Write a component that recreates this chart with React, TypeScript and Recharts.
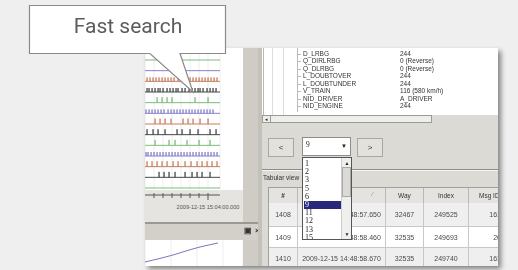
import React from 'react';
import {
  ComposedChart,
  Scatter,
  XAxis,
  YAxis,
  ReferenceLine,
  CartesianGrid,
  LineChart,
  Line,
} from 'recharts';

// signal rows, top to bottom; event times on a 0..75 scale
const rowColors = ['#7bbd7b', '#8680cc', '#c67d5c', '#474747'];
const row1Events: number[] = [];
const row2Events: number[] = [];
const row3Events = [2, 5, 8, 11, 14, 17, 20, 23, 26, 29, 33, 36, 39, 42, 45, 48, 51, 54, 57, 60, 63, 66, 69, 72];
const row4Events = [2, 4, 7, 10, 13, 15, 18, 22, 25, 28, 31, 33, 37, 40, 44, 47, 50, 53, 55, 58, 62, 65, 68, 71];
const row5Events = [12, 17, 22, 27, 50, 63];
const row6Events = [1, 4, 7, 10, 13, 16, 19, 23, 26, 29, 32, 35, 38, 41, 44, 47, 50, 53, 56, 59, 62, 65, 68];
const row7Events = [10, 15, 20, 26, 38, 43, 48, 55, 63];
const row8Events = [2, 8, 13, 20, 32, 37, 45, 53, 65, 71];
const row9Events = [10, 24, 30, 42, 54, 65];
const row10Events = [1, 3, 6, 9, 12, 15, 18, 21, 24, 27, 30, 33, 36, 39, 42, 45, 48, 51, 54, 57, 60, 63, 66, 69, 72];
const row11Events = [2, 7, 12, 17, 22, 28, 33, 40, 46, 52, 57, 62, 67, 72];
const row12Events = [14, 19, 24, 30, 40, 47, 52, 57, 65];
const row13Events: number[] = [];
const signalRows = [
  row1Events, row2Events, row3Events, row4Events, row5Events, row6Events, row7Events,
  row8Events, row9Events, row10Events, row11Events, row12Events, row13Events,
];
const timeTicks = [9, 18, 27, 36, 45, 54, 63];
const timeLabel = '2009-12-15 15:04:00.000';

// lower panel curve
const curveX = [0, 14, 28, 41, 55, 64, 73];
const curveY = [3.4, 6.2, 9.3, 12.7, 16.1, 17.8, 19.5];

// tree view
const treeNames = ['D_LRBG', 'Q_DIRLRBG', 'Q_DLRBG', 'L_DOUBTOVER', 'L_DOUBTUNDER', 'V_TRAIN', 'NID_DRIVER', 'NID_ENGINE'];
const treeValues = ['244', '0 (Reverse)', '0 (Reverse)', '244', '244', '116 (580 km/h)', 'A_DRIVER', '244'];

// combo list
const comboItems = ['1', '2', '3', '5', '6', '9', '11', '12', '13', '15'];
const comboSelected = '9';

// table
const tableHeaders = ['#', 'Time', 'Way', 'Index', 'Msg ID'];
const tableIds = ['1408', '1409', '1410'];
const tableTimes = ['2009-12-15 14:48:57.650', '2009-12-15 14:48:58.460', '2009-12-15 14:48:58.670'];
const tableWays = ['32467', '32535', '32535'];
const tableIndex = ['249525', '249693', '249740'];
const tableMsg = ['161', '20', '161'];

const tickShape = (color: string, h: number) => (props: any) => (
  <rect x={props.cx - 0.6} y={props.cy - h} width={1.3} height={h} fill={color} />
);

const TimeTick = (props: any) => {
  const { x, y, payload } = props;
  const major = payload.value === 63;
  return (
    <g>
      <line x1={x} x2={x} y1={y - 2} y2={y + (major ? 5 : 3)} stroke="#555" strokeWidth={1} />
      {major && (
        <text x={x} y={y + 14} textAnchor="middle" fontSize={5.6} fill="#555" fontFamily="Liberation Sans">
          {timeLabel}
        </text>
      )}
    </g>
  );
};

const SignalChart = () => {
  const series = signalRows.map((events, i) => events.map((t) => ({ t, row: i })));
  return (
    <ComposedChart width={100} height={175} margin={{ top: 0, right: 25, bottom: 0, left: 0 }}>
      <CartesianGrid horizontal={false} stroke="#eeeeee" />
      <XAxis
        dataKey="t"
        type="number"
        domain={[0, 75]}
        ticks={timeTicks}
        height={28}
        tickSize={0}
        tickMargin={0}
        tickLine={false}
        axisLine={{ stroke: '#555' }}
        tick={<TimeTick />}
        interval={0}
      />
      <YAxis dataKey="row" type="number" domain={[-1.125, 12.656]} reversed hide />
      {signalRows.map((_, i) => (
        <ReferenceLine key={'l' + i} y={i} stroke={rowColors[i % 4]} strokeWidth={1} />
      ))}
      {series.map((data, i) => (
        <Scatter
          key={'s' + i}
          data={data}
          isAnimationActive={false}
          shape={tickShape(rowColors[i % 4], data.length > 15 ? 4 : 5.5)}
        />
      ))}
    </ComposedChart>
  );
};

const CurveChart = () => {
  const data = curveX.map((x, i) => ({ x, y: curveY[i] }));
  return (
    <LineChart width={98} height={26} data={data} margin={{ top: 0, right: 0, bottom: 0, left: 0 }}>
      <CartesianGrid horizontal={false} stroke="#eeeeee" />
      <XAxis dataKey="x" type="number" domain={[0, 98]} ticks={[13, 26, 39, 52, 65, 78]} hide />
      <YAxis type="number" domain={[0, 22]} hide />
      <Line dataKey="y" stroke="#7a76c6" strokeWidth={1} dot={false} isAnimationActive={false} type="monotone" />
    </LineChart>
  );
};

const abs = (l: number, t: number, w: number, h: number, extra: React.CSSProperties = {}): React.CSSProperties => ({
  position: 'absolute',
  left: l,
  top: t,
  width: w,
  height: h,
  ...extra,
});

const btn = (l: number, label: string) => (
  <div
    style={abs(l, 90, 26, 19, {
      background: '#e3e1dc',
      border: '1px solid #a9a7a2',
      boxSizing: 'border-box',
      fontSize: 8,
      color: '#333',
      textAlign: 'center',
      lineHeight: '17px',
    })}
  >
    {label}
  </div>
);

const colEdges = [268, 297, 385, 423, 468, 530];
const rowTops = [202, 226, 247];
const rowHeights = [24, 21, 21];
const rowBg = ['#efefef', '#ffffff', '#efefef'];

export default function App() {
  return (
    <div
      style={abs(0, 0, 518, 270, {
        background: '#efefef',
        fontFamily: '"Liberation Sans", Arial, sans-serif',
        overflow: 'hidden',
      })}
    >
      {/* screenshot frame */}
      <div
        style={abs(145, 48, 353, 218, {
          background: '#dcdad5',
          boxShadow: '3px 3px 5px rgba(0,0,0,0.45)',
          overflow: 'hidden',
          filter: 'blur(0.35px)',
        })}
      >
        {/* left signal panel */}
        <div style={abs(0, 0, 98, 142, { background: '#ffffff' })} />
        <div style={abs(0, 142, 98, 32, { background: '#e6e4e0' })} />
        <div style={abs(98, 0, 15, 218, { background: '#cfccc6' })} />
        <div style={abs(0, 0, 100, 175)}>
          <SignalChart />
        </div>
        {/* lower panel */}
        <div style={abs(0, 174, 113, 2, { background: '#9a9893' })} />
        <div style={abs(0, 176, 113, 16, { background: '#d3d0ca' })} />
        <div style={abs(99, 178, 12, 12, { fontSize: 8, color: '#333', fontWeight: 700 })}>
          <span style={{ marginRight: 3 }}>▣</span>×
        </div>
        <div style={abs(0, 192, 98, 26, { background: '#ffffff' })}>
          <CurveChart />
        </div>

        {/* right side: tree view */}
        <div style={abs(113, 0, 4, 218, { background: '#c4c1bb' })} />
        <div style={abs(117, 0, 236, 67, { background: '#ffffff', overflow: 'hidden' })}>
          <div style={abs(1, 0, 1, 67, { background: '#b8b8b8' })} />
          <div style={abs(10, 0, 1, 67, { background: '#dddddd' })} />
          <div style={abs(21, 0, 1, 67, { background: '#dddddd' })} />
          <div style={abs(35, 0, 1, 64, { background: '#bbbbbb' })} />
          {treeNames.map((n, i) => (
            <React.Fragment key={n}>
              <div style={abs(35, 2 + i * 7.5 + 3.5, 4, 1, { background: '#bbbbbb' })} />
              <div
                style={abs(41, i * 7.5 + 1.5, 100, 8, {
                  fontSize: 6.5,
                  lineHeight: '8px',
                  color: '#333',
                  whiteSpace: 'nowrap',
                })}
              >
                {n}
              </div>
              <div
                style={abs(138, i * 7.5 + 1.5, 100, 8, {
                  fontSize: 6.5,
                  lineHeight: '8px',
                  color: '#333',
                  whiteSpace: 'nowrap',
                })}
              >
                {treeValues[i]}
              </div>
            </React.Fragment>
          ))}
        </div>
        {/* horizontal scrollbar */}
        <div
          style={abs(117, 67, 170, 8, {
            background: '#eeeeec',
            border: '1px solid #9d9b96',
            boxSizing: 'border-box',
          })}
        >
          <div style={abs(0, 0, 7, 6, { borderRight: '1px solid #9d9b96', fontSize: 5, lineHeight: '6px', textAlign: 'center', color: '#222' })}>◂</div>
        </div>

        {/* navigation */}
        {btn(123, '<')}
        <div
          style={abs(157, 89, 49, 19, {
            background: '#ffffff',
            border: '1px solid #8e8c87',
            boxSizing: 'border-box',
          })}
        >
          <div style={abs(3, 2, 10, 12, { fontSize: 7.5, fontFamily: '"Liberation Serif", serif', color: '#222' })}>{comboSelected}</div>
          <div style={abs(38, 3, 8, 11, { fontSize: 6, color: '#222', lineHeight: '11px' })}>▼</div>
        </div>
        {btn(212, '>')}

        {/* separator and tab */}
        <div style={abs(117, 121, 236, 1, { background: '#8f8d88' })} />
        <div style={abs(117, 122, 236, 1, { background: '#f5f5f5' })} />
        <div style={abs(118, 124, 60, 12, { fontSize: 6.5, lineHeight: '12px', color: '#333', whiteSpace: 'nowrap' })}>
          Tabular view
        </div>

        {/* table */}
        <div style={abs(123, 139, 240, 90, { overflow: 'hidden', borderLeft: '1px solid #a0a0a0', borderTop: '1px solid #a0a0a0', background: '#ffffff' })}>
          <div style={abs(0, 0, 240, 15, { background: '#e4e3df', borderBottom: '1px solid #b0b0b0' })}>
            {tableHeaders.map((h, ci) => (
              <div
                key={h}
                style={abs(colEdges[ci] - 268, 0, colEdges[ci + 1] - colEdges[ci], 15, {
                  textAlign: ci === 4 ? 'left' : 'center',
                  paddingLeft: ci === 4 ? 10 : 0,
                  lineHeight: '15px',
                  fontSize: 6.5,
                  color: '#333',
                  borderRight: '1px solid #b8b8b8',
                  boxSizing: 'border-box',
                  fontWeight: ci === 0 ? 700 : 400,
                })}
              >
                {h}
              </div>
            ))}
            <div style={abs(103, 3, 6, 8, { fontSize: 6, color: '#888' })}>⁄</div>
          </div>
          {tableIds.map((id, ri) => (
            <div
              key={id}
              style={abs(0, rowTops[ri] - 187, 240, rowHeights[ri], {
                background: rowBg[ri],
                borderBottom: '1px solid #c8c8c8',
                boxSizing: 'border-box',
              })}
            >
              {[id, tableTimes[ri], tableWays[ri], tableIndex[ri], tableMsg[ri]].map((v, ci) => (
                <div
                  key={ci}
                  style={abs(colEdges[ci] - 268, 0, (ci === 4 ? 500 : colEdges[ci + 1]) - colEdges[ci], rowHeights[ri], {
                    textAlign: ci === 4 ? 'right' : 'center',
                    lineHeight: rowHeights[ri] + 'px',
                    fontSize: 7,
                    color: '#4a4a4a',
                    borderRight: ci === 4 ? 'none' : '1px solid #c8c8c8',
                    boxSizing: 'border-box',
                    whiteSpace: 'nowrap',
                  })}
                >
                  {v}
                </div>
              ))}
            </div>
          ))}
        </div>

        {/* dropdown list */}
        <div
          style={abs(157, 109, 50, 83, {
            background: '#ffffff',
            border: '1px solid #555',
            boxSizing: 'border-box',
            overflow: 'hidden',
          })}
        >
          {comboItems.map((it, i) => (
            <div
              key={it}
              style={abs(1, 2 + i * 8.2, 36, 8.2, {
                fontSize: 8,
                lineHeight: '8.2px',
                fontFamily: '"Liberation Serif", serif',
                color: it === comboSelected ? '#ffffff' : '#222',
                background: it === comboSelected ? '#27277c' : 'transparent',
                paddingLeft: 1,
              })}
            >
              {it}
            </div>
          ))}
          <div style={abs(38, 0, 10, 83, { background: '#efefed', borderLeft: '1px solid #ccc' })}>
            <div style={abs(0, 1, 10, 8, { fontSize: 5, textAlign: 'center', lineHeight: '8px', color: '#222' })}>▲</div>
            <div style={abs(0, 9, 9, 30, { background: '#dcdad5', border: '1px solid #aaa', boxSizing: 'border-box' })} />
            <div style={abs(0, 72, 10, 8, { fontSize: 5, textAlign: 'center', lineHeight: '8px', color: '#222' })}>▼</div>
          </div>
        </div>
      </div>

      {/* callout */}
      <svg width={518} height={270} style={{ position: 'absolute', left: 0, top: 0 }}>
        <path
          d="M29.5 5.5 H225.5 V53.5 H180 L193 92 L150 53.5 H29.5 Z"
          fill="#ffffff"
          stroke="#8a8a8a"
          strokeWidth={1.2}
        />
        <text x={128} y={33} textAnchor="middle" fontSize={21} fill="#5c5c5c" fontFamily="Roboto">
          Fast search
        </text>
      </svg>
    </div>
  );
}
